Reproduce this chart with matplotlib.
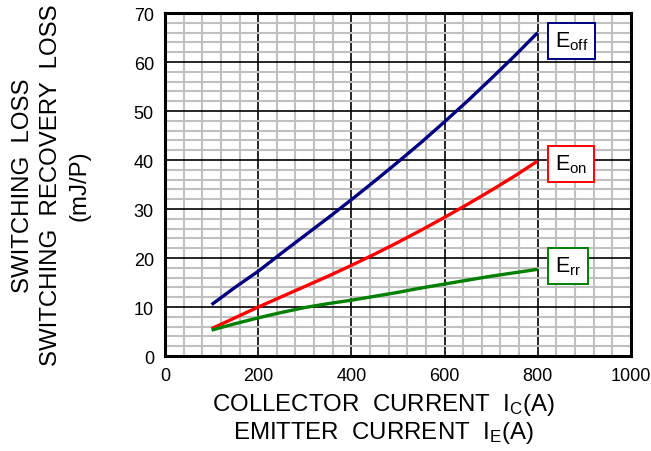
import matplotlib.pyplot as plt
from matplotlib.ticker import MultipleLocator

plt.rcParams['font.family'] = ['Liberation Sans', 'DejaVu Sans']
plt.rcParams['mathtext.fontset'] = 'custom'
plt.rcParams['mathtext.rm'] = 'Liberation Sans'
plt.rcParams['mathtext.it'] = 'Liberation Sans'

current = [100, 150, 200, 250, 300, 350, 400, 450, 500, 550, 600, 650, 700, 750, 800]
e_off = [10.5, 14.0, 17.3, 21.0, 24.6, 28.2, 31.9, 35.7, 39.6, 43.6, 47.8, 52.1, 56.6, 61.2, 66.0]
e_on = [5.6, 7.8, 10.0, 12.1, 14.2, 16.3, 18.5, 20.8, 23.2, 25.7, 28.3, 31.0, 33.8, 36.7, 39.8]
e_rr = [5.3, 6.6, 7.8, 8.9, 9.9, 10.7, 11.4, 12.2, 13.0, 13.9, 14.7, 15.5, 16.3, 17.0, 17.7]

series = [
    (e_off, '#000080', r'E$_{\mathrm{off}}$', 873, 64.3),
    (e_on, '#ff0000', r'E$_{\mathrm{on}}$', 872, 39.2),
    (e_rr, '#008000', r'E$_{\mathrm{rr}}$', 866, 18.4),
]

fig = plt.figure(figsize=(6.51, 4.52), dpi=100)
ax = fig.add_axes([0.2535, 0.21, 0.7155, 0.759])

ax.set_xlim(0, 1000)
ax.set_ylim(0, 70)
ax.xaxis.set_major_locator(MultipleLocator(200))
ax.xaxis.set_minor_locator(MultipleLocator(40))
ax.yaxis.set_major_locator(MultipleLocator(10))
ax.yaxis.set_minor_locator(MultipleLocator(2))
ax.grid(which='minor', color='#c0c0c0', linewidth=1.5)
ax.grid(which='major', color='black', linewidth=1.2)
ax.set_axisbelow(True)

for spine in ax.spines.values():
    spine.set_linewidth(2.2)
    spine.set_color('black')

ax.tick_params(which='both', length=0, labelsize=13, pad=8)

for values, color, label, lx, ly in series:
    ax.plot(current, values, color=color, linewidth=2.4, solid_capstyle='butt')
    ax.text(lx, ly, label, fontsize=15.5, ha='center', va='center',
            bbox=dict(boxstyle='square,pad=0.32', facecolor='white',
                      edgecolor=color, linewidth=1.4))

ax.set_xlabel('COLLECTOR  CURRENT  I$_{\\mathrm{C}}$(A)\nEMITTER  CURRENT  I$_{\\mathrm{E}}$(A)',
              fontsize=17.3, linespacing=1.1)
ax.xaxis.set_label_coords(0.468, -0.102)
ax.set_ylabel('SWITCHING  LOSS\nSWITCHING  RECOVERY  LOSS\n(mJ/P)',
              fontsize=17.3, labelpad=31, linespacing=1.38)

fig.savefig('out.png', dpi=100)
